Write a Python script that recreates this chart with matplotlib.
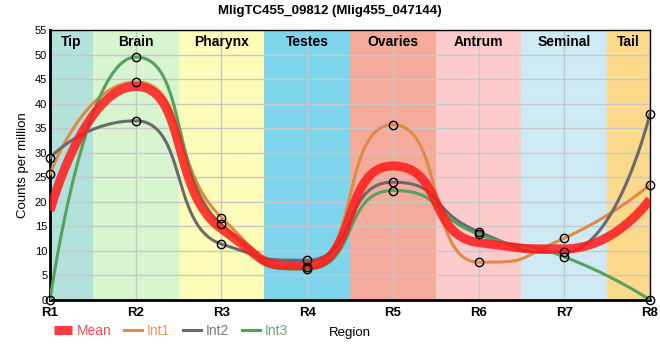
import numpy as np
import matplotlib.pyplot as plt

plt.rcParams['font.family'] = ['Liberation Sans', 'DejaVu Sans']

regions = ['R1', 'R2', 'R3', 'R4', 'R5', 'R6', 'R7', 'R8']
tissues = ['Tip', 'Brain', 'Pharynx', 'Testes', 'Ovaries', 'Antrum', 'Seminal', 'Tail']
tissue_colors = ['#b3e2dd', '#d8f5d0', '#fdfdb9', '#7ed4eb', '#f4ab9c', '#fdcbcb', '#ceebf5', '#fdd98c']

int1 = [25.7, 44.4, 16.8, 6.7, 35.7, 7.7, 12.6, 23.5]
int2 = [29.0, 36.5, 11.4, 8.1, 24.0, 13.9, 9.7, 37.9]
int3 = [0.0, 49.5, 15.4, 6.3, 22.3, 13.4, 8.8, 0.0]
mean = [18.2, 43.5, 14.5, 7.0, 27.3, 11.7, 10.4, 20.5]


def spline(y, n=50, sm=2 / 3):
    # bezier spline, tangent along neighbour chord, flattened at extremes
    y = [float(v) for v in y]
    xs = list(range(len(y)))
    lc = [None] * len(y)
    rc = [None] * len(y)
    for i in range(1, len(y) - 1):
        lx = (sm * xs[i] + xs[i - 1]) / (sm + 1)
        ly = (sm * y[i] + y[i - 1]) / (sm + 1)
        rx = (sm * xs[i] + xs[i + 1]) / (sm + 1)
        ry = (sm * y[i] + y[i + 1]) / (sm + 1)
        corr = (ry - ly) * (rx - xs[i]) / (rx - lx) + y[i] - ry
        ly += corr
        ry += corr
        if ly > y[i - 1] and ly > y[i]:
            ly = max(y[i - 1], y[i]); ry = 2 * y[i] - ly
        elif ly < y[i - 1] and ly < y[i]:
            ly = min(y[i - 1], y[i]); ry = 2 * y[i] - ly
        if ry > y[i + 1] and ry > y[i]:
            ry = max(y[i + 1], y[i]); ly = 2 * y[i] - ry
        elif ry < y[i + 1] and ry < y[i]:
            ry = min(y[i + 1], y[i]); ly = 2 * y[i] - ry
        lc[i] = (lx, ly)
        rc[i] = (rx, ry)
    t = np.linspace(0, 1, n)[:, None]
    out = []
    for i in range(len(y) - 1):
        p0 = np.array([xs[i], y[i]])
        p1 = np.array(rc[i] if rc[i] else p0)
        p3 = np.array([xs[i + 1], y[i + 1]])
        p2 = np.array(lc[i + 1] if lc[i + 1] else p3)
        pts = ((1 - t) ** 3) * p0 + 3 * ((1 - t) ** 2) * t * p1 + 3 * (1 - t) * t ** 2 * p2 + t ** 3 * p3
        out.append(pts if i == 0 else pts[1:])
    pts = np.vstack(out)
    return pts[:, 0], pts[:, 1]


fig = plt.figure(figsize=(6.6, 3.6), dpi=100)
ax = fig.add_axes([0.0758, 0.1667, 0.909, 0.75])

x = np.arange(len(regions))
for i, (name, c) in enumerate(zip(tissues, tissue_colors)):
    ax.axvspan(max(i - 0.5, 0), min(i + 0.5, 7), color=c, lw=0, zorder=0)
    ax.text(i if 0 < i < 7 else (0.25 if i == 0 else 6.75), 52.6, name,
            ha='center', va='center', fontsize=10, fontweight='bold', zorder=5)

ax.grid(True, color='#c8c8c8', lw=1, zorder=1)
ax.set_axisbelow(True)

series = [('Int1', int1, '#e08a45'), ('Int2', int2, '#6a6a6a'), ('Int3', int3, '#55a25f')]
for name, vals, c in series:
    sx, sy = spline(vals)
    ax.plot(sx, sy, color=c, lw=2.2, label=name, zorder=3)

mx, my = spline(mean)
ax.plot(mx, my, color='#ff1a1a', lw=6.5, alpha=0.85, label='Mean', zorder=4,
        solid_capstyle='butt')

for name, vals, c in series:
    ax.plot(x, vals, 'o', mfc='none', mec='black', ms=6, mew=1, zorder=6, clip_on=False)

ax.set_xlim(0, 7)
ax.set_ylim(0, 55)
ax.set_xticks(x)
ax.set_xticklabels(regions, fontweight='bold', fontsize=9.5)
ax.set_yticks(np.arange(0, 56, 5))
ax.tick_params(axis='y', labelsize=8, length=0, pad=2)
ax.tick_params(axis='x', length=0, pad=5)
for s in ['left', 'bottom']:
    ax.spines[s].set_linewidth(2)
for s in ['top', 'right']:
    ax.spines[s].set_linewidth(1)

ax.set_ylabel('Counts per million', fontsize=9.5, labelpad=4)
ax.set_xlabel('Region', fontsize=9.5, labelpad=6)
fig.suptitle('MligTC455_09812 (Mlig455_047144)', fontsize=9.5, fontweight='bold', y=0.985)

h, l = ax.get_legend_handles_labels()
order = [3, 0, 1, 2]
leg = fig.legend([h[i] for i in order], [l[i] for i in order], loc='center left',
                 bbox_to_anchor=(0.082, 0.08), ncol=4, frameon=False, fontsize=10,
                 handlelength=1.3, handletextpad=0.35,
                 columnspacing=0.9, borderaxespad=0, borderpad=0)
for txt, c in zip(leg.get_texts(), ['#ff4d4d', '#e8995e', '#7a7a7a', '#66aa70']):
    txt.set_color(c)

fig.savefig('out.png', dpi=100)
